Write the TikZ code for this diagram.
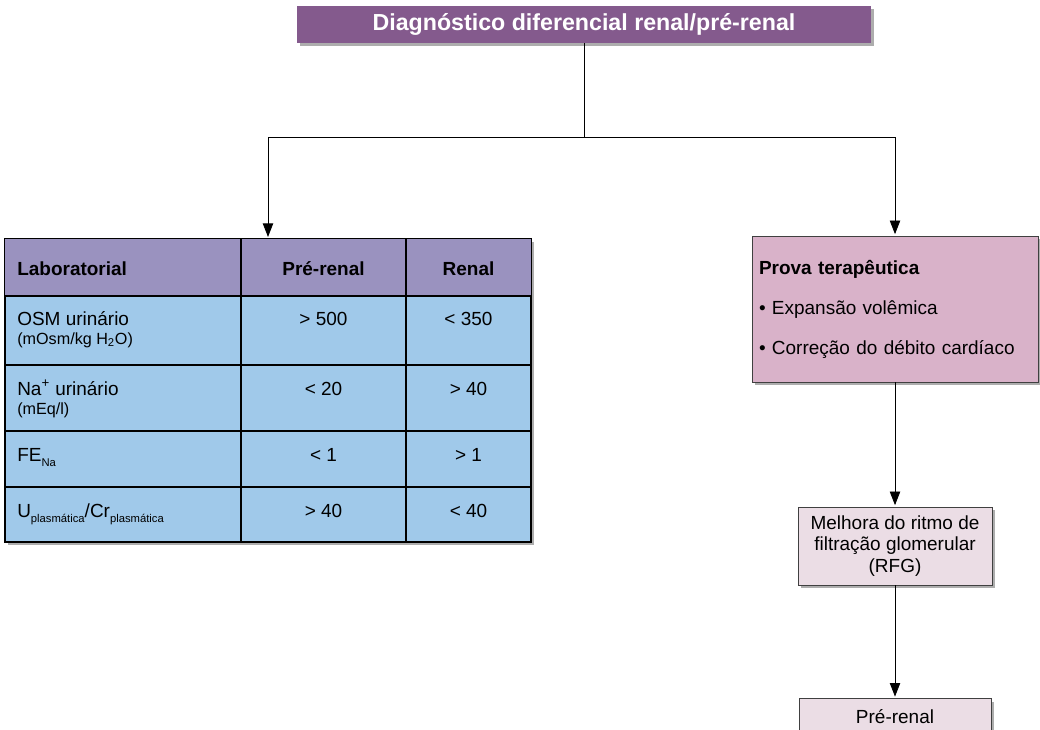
\documentclass[tikz,border=0pt]{standalone}
\usepackage{fontspec}
\setmainfont{Liberation Sans}
\usepackage{tikz}
\usetikzlibrary{positioning, arrows.meta, shadows}

\definecolor{titleviolet}{HTML}{845A8D}
\definecolor{labhead}{HTML}{9A92BF}
\definecolor{labblue}{HTML}{A0C9EA}
\definecolor{provapink}{HTML}{D9B2C9}
\definecolor{rfgpink}{HTML}{EBDDE5}

% low, small index as in U_plasmatica
\newcommand{\lowsub}[1]{\raisebox{-0.5ex}{\fontsize{8}{8}\selectfont #1}}

\begin{document}
\begin{tikzpicture}[
  x=0.25mm, y=-0.25mm,
  every node/.style={font=\fontsize{13.5}{16}\selectfont, inner sep=0pt},
  flow/.style={line width=0.6pt, shorten >=1pt, -{Triangle[length=3.4mm,width=2.6mm]}},
  boxshadow/.style={drop shadow={shadow xshift=0.8mm, shadow yshift=-0.8mm, fill=black!40, opacity=0.8}},
  box/.style={draw=black!75, line width=0.6pt, boxshadow},
  grid/.style={line width=0.9pt},
  unittxt/.style={font=\fontsize{11.5}{13}\selectfont},
  headtxt/.style={font=\fontsize{13.5}{16}\selectfont\bfseries}
]
  \useasboundingbox (0,0) rectangle (1040,730);

  % title
  \node[fill=titleviolet, boxshadow, minimum width=14.35cm, minimum height=0.925cm,
        text=white, font=\fontsize{16.5}{20}\selectfont\bfseries] (diag) at (584,24.5)
        {Diagnóstico diferencial renal/pré-renal};
  \coordinate (split) at (584,137);

  % lab table
  \node[draw, grid, fill=labblue, boxshadow, minimum width=13.15cm, minimum height=7.575cm] (lab) at (268,390.5) {};
  \fill[labhead] (5,239) rectangle (531,296);
  \foreach \y in {296,365,431,487} \draw[grid] (5,\y) -- (531,\y);
  \foreach \x in {241,406} \draw[grid] (\x,239) -- (\x,542);
  \draw[grid] (lab.north west) rectangle (lab.south east);

  \node[headtxt, anchor=base west] (hlab) at (17,275) {Laboratorial};
  \node[headtxt, anchor=base] (hpre) at (323.5,275) {Pré-renal};
  \node[headtxt, anchor=base] (hren) at (468.5,275) {Renal};

  \node[anchor=base west] (osm) at (17,325) {OSM urinário};
  \node[unittxt, anchor=base west] (osmu) at (17,344) {(mOsm/kg H\textsubscript{2}O)};
  \node[anchor=base] (osmpre) at (323.5,325) {> 500};
  \node[anchor=base] (osmren) at (468.5,325) {< 350};

  \node[anchor=base west] (na) at (17,395) {Na\textsuperscript{+} urinário};
  \node[unittxt, anchor=base west] (nau) at (17,414) {(mEq/l)};
  \node[anchor=base] (napre) at (323.5,395) {< 20};
  \node[anchor=base] (naren) at (468.5,395) {> 40};

  \node[anchor=base west] (fe) at (17,461) {FE\lowsub{Na}};
  \node[anchor=base] (fepre) at (323.5,461) {< 1};
  \node[anchor=base] (feren) at (468.5,461) {> 1};

  \node[anchor=base west] (ucr) at (17,517) {U\lowsub{plasmática}/Cr\lowsub{plasmática}};
  \node[anchor=base] (ucrpre) at (323.5,517) {> 40};
  \node[anchor=base] (ucrren) at (468.5,517) {< 40};

  % right column
  \node[box, fill=provapink, text width=6.8cm, inner xsep=0.175cm, minimum height=3.65cm, align=left] (prova) at (895,309)
    {{\bfseries Prova terapêutica}\\[12.5pt]
     \textbullet\ Expansão volêmica\\[12.5pt]
     \textbullet\ Correção do débito cardíaco};
  \node[box, fill=rfgpink, minimum width=4.85cm, minimum height=1.95cm, align=center,
        font=\fontsize{13.5}{15.3}\selectfont] (rfg) at (895,546)
    {Melhora do ritmo de\\filtração glomerular\\(RFG)};
  \node[box, fill=rfgpink, minimum width=4.8cm, anchor=north, inner ysep=8pt,
        text height=9.5pt, text depth=2cm] (prerenal) at (895,698) {Pré-renal};

  \draw[line width=0.6pt] (diag) -- (split);
  \draw[flow] (split) -| (lab.north);
  \draw[flow] (split) -| (prova.north);
  \draw[flow] (prova) -- (rfg);
  \draw[flow] (rfg) -- (prerenal);
\end{tikzpicture}
\end{document}
